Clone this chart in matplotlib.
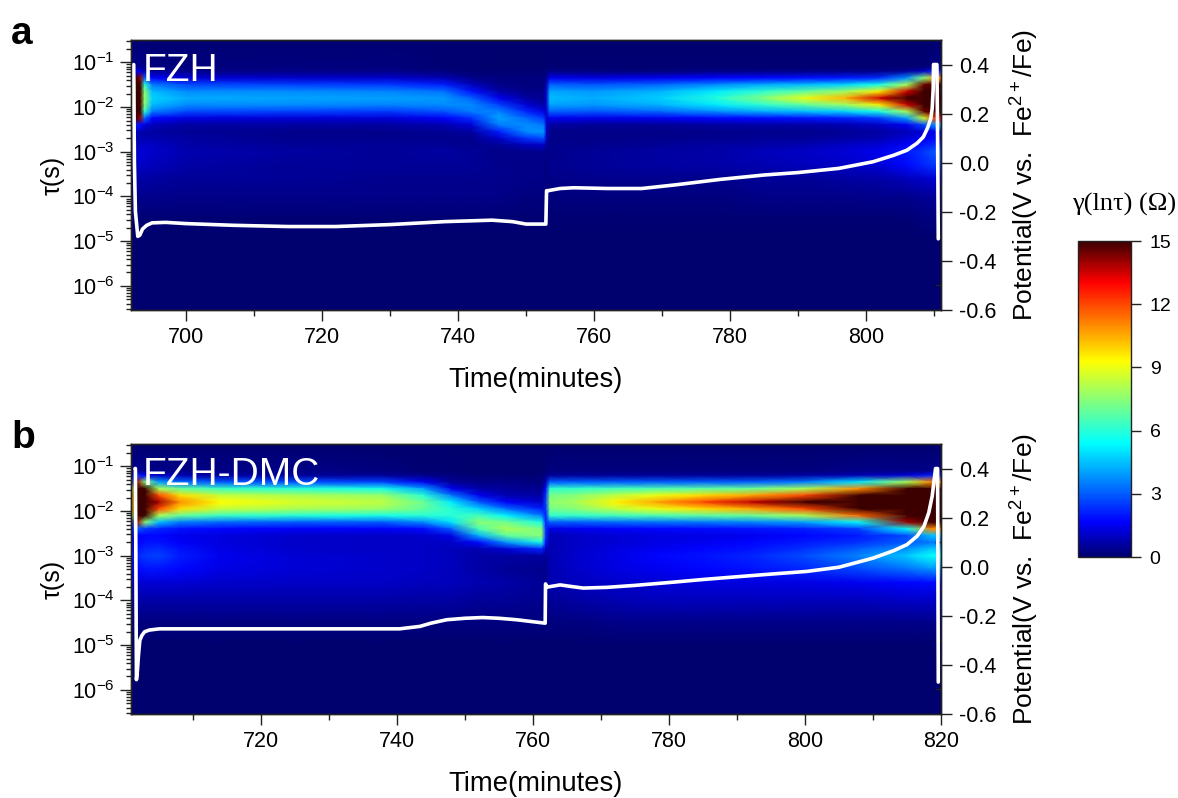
import numpy as np
import matplotlib
matplotlib.use("Agg")
import matplotlib.pyplot as plt
from matplotlib.colors import LinearSegmentedColormap
from matplotlib.ticker import LogLocator, MultipleLocator, FixedLocator, NullFormatter, FuncFormatter

plt.rcParams['font.family'] = ['Liberation Sans', 'DejaVu Sans']
plt.rcParams['mathtext.fontset'] = 'custom'
plt.rcParams['mathtext.rm'] = 'Liberation Sans'
plt.rcParams['mathtext.default'] = 'regular'

# log10(tau) levels of the heat-map rows
log_tau = [-0.50, -1.10, -1.20, -1.35, -1.50, -1.65, -1.80, -1.95, -2.10, -2.25, -2.40,
           -2.55, -2.70, -2.85, -3.00, -3.30, -3.60, -4.00, -4.50, -5.00, -6.54]

# panel a : each row is one time column
time_a = [691.9, 692.7, 693.3, 693.9, 695, 700, 715, 730, 738, 742, 746, 750, 752.6, 753.0, 753.5,
          760, 770, 778, 785, 791, 797, 802, 806, 808.5, 810.5, 811]
gamma_a = [
    [.2, .3, .6, 3, 7, 9, 9, 9, 7, 3, 1, .6, .6, .7, .8, .7, .6, .4, .1, 0, 0],
    [.1, .4, 1.5, 15, 24, 26, 26, 26, 24, 15, 2, .8, .7, .9, 1, .9, .7, .4, .1, 0, 0],
    [.1, .4, 1.3, 14, 24, 26, 26, 26, 24, 14, 1.8, .8, .8, 1, 1.2, 1, .7, .4, .1, 0, 0],
    [.1, .3, .8, 3.2, 6.2, 7.5, 7.8, 7.5, 6.2, 3.2, 1.3, .7, .8, 1, 1.2, 1, .7, .4, .1, 0, 0],
    [.1, .2, .5, 1.7, 3.5, 4.4, 4.8, 4.4, 3.5, 1.7, .9, .6, .8, 1, 1.1, .9, .6, .4, .1, 0, 0],
    [.1, .2, .3, 1.2, 2.7, 3.7, 4.2, 3.7, 2.7, 1.3, .6, .5, .6, .7, .8, .7, .5, .3, .1, 0, 0],
    [.1, .2, .3, 1.1, 2.6, 3.7, 4.1, 3.7, 2.6, 1.2, .6, .4, .4, .5, .6, .5, .5, .3, .1, 0, 0],
    [.1, .2, .3, 1.1, 2.5, 3.6, 4.0, 3.6, 2.5, 1.2, .6, .4, .4, .5, .5, .5, .4, .3, .1, 0, 0],
    [.1, .1, .2, .8, 2.1, 3.3, 3.9, 3.7, 2.9, 1.6, .8, .5, .4, .5, .6, .5, .4, .3, .1, 0, 0],
    [.1, .1, .1, .3, .9, 1.9, 3.1, 3.7, 3.5, 2.3, 1.2, .6, .4, .4, .5, .5, .4, .3, .1, 0, 0],
    [0, 0, .1, .2, .3, .7, 1.5, 2.6, 3.6, 4.1, 3.5, 2.1, 1, .5, .3, .4, .4, .3, .1, 0, 0],
    [0, 0, .1, .2, .2, .3, .6, 1.2, 2.2, 3.2, 3.8, 3.7, 2.4, .9, .4, .3, .3, .2, .1, 0, 0],
    [0, 0, .1, .2, .2, .3, .4, .7, 1.4, 2.5, 3.4, 3.9, 2.8, 1.0, .4, .3, .3, .2, .1, 0, 0],
    [0, .1, .2, .4, .9, 1.1, 1.2, 1.1, 1, 1, 1.1, 1.1, .9, .5, .3, .2, .2, .2, .1, 0, 0],
    [0, .1, .3, 1.5, 3.1, 4.1, 4.4, 4.1, 3.1, 1.5, .6, .3, .3, .4, .4, .4, .3, .2, .1, 0, 0],
    [0, .1, .2, 1.3, 2.9, 3.9, 4.2, 3.9, 2.9, 1.4, .5, .3, .3, .4, .5, .5, .4, .2, .1, 0, 0],
    [0, .1, .2, 1.5, 3.2, 4.3, 4.7, 4.3, 3.2, 1.5, .5, .3, .4, .5, .6, .6, .4, .2, .1, 0, 0],
    [0, .1, .3, 1.7, 3.7, 5.1, 5.9, 5.1, 3.7, 1.7, .6, .4, .4, .6, .7, .7, .4, .2, .1, 0, 0],
    [0, .1, .3, 1.8, 4.2, 6.1, 7.4, 6.1, 4.2, 1.8, .7, .4, .5, .7, .9, .8, .5, .3, .1, 0, 0],
    [0, .1, .3, 1.9, 4.4, 6.9, 9, 6.9, 4.4, 1.9, .7, .4, .5, .8, 1, .9, .5, .3, .1, 0, 0],
    [0, .1, .3, 2, 4.8, 7.8, 10.4, 7.8, 4.8, 2.1, .8, .5, .6, 1, 1.2, 1, .6, .3, .1, 0, 0],
    [0, .1, .3, 2.3, 5.8, 9.5, 13.5, 9.5, 5.8, 2.5, 1, .6, .8, 1.2, 1.5, 1.2, .7, .4, .1, 0, 0],
    [0, .1, .5, 3.8, 8, 13.5, 20, 13.5, 8, 4, 1.5, .9, 1.2, 1.6, 2, 1.8, .9, .4, .1, 0, 0],
    [0, .1, 1, 7.5, 14.5, 22, 32, 22, 14.5, 8.5, 2.8, 1.2, 1.5, 2, 2.5, 2.2, 1.1, .5, .2, 0, 0],
    [0, .3, 2.2, 11, 19, 26, 34, 26, 19, 13, 4, 1.5, 1.8, 2.4, 3, 2.5, 1.2, .5, .2, 0, 0],
    [0, .3, 2.2, 11, 19, 26, 34, 26, 19, 13, 4, 1.5, 1.8, 2.4, 3, 2.5, 1.2, .5, .2, 0, 0],
]

# panel b
time_b = [700.9, 701.8, 703, 705, 708, 714, 725, 738, 744, 748, 752, 756, 761.3, 761.9, 762.5,
          766, 772, 778, 785, 792, 800, 808, 815, 818.5, 820]
gamma_b = [
    [0, .3, .8, 3, 8, 10, 10, 10, 8, 3, 1.5, 1.2, 1.3, 1.5, 1.8, 1.5, 1, .6, .2, 0, 0],
    [0, .5, 2.2, 14, 24, 26, 26, 26, 24, 14, 3, 1.6, 1.6, 1.9, 2.2, 1.7, 1.1, .7, .2, 0, 0],
    [0, .4, 1.5, 7.5, 15, 18, 18, 18, 15, 7.5, 2.5, 1.7, 1.9, 2.2, 2.5, 1.9, 1.2, .7, .2, 0, 0],
    [0, .3, 1, 4, 8, 12, 14, 12, 8, 4.5, 2.2, 1.7, 1.9, 2.3, 2.6, 1.9, 1.2, .7, .2, 0, 0],
    [0, .3, .8, 3.2, 7, 9.8, 11, 9.8, 7, 3.5, 1.9, 1.5, 1.6, 1.9, 2.1, 1.7, 1.2, .7, .2, 0, 0],
    [0, .3, .6, 2.9, 6.3, 8.4, 9.3, 8.4, 6.3, 3.2, 1.7, 1.3, 1.3, 1.4, 1.5, 1.4, 1.1, .7, .2, 0, 0],
    [0, .3, .5, 2.8, 6, 8, 8.7, 8, 6, 3, 1.6, 1.1, 1.1, 1.1, 1.2, 1.2, 1, .7, .2, 0, 0],
    [0, .2, .5, 2.6, 5.7, 7.7, 8.3, 7.7, 5.8, 3, 1.6, 1, 1, 1, 1.1, 1.1, 1, .7, .2, 0, 0],
    [0, .1, .3, 1.5, 4, 6, 7, 6.9, 6, 3.7, 1.8, 1.1, 1, 1, 1, 1, .9, .6, .2, 0, 0],
    [0, .1, .2, .5, 1.5, 3.5, 5.2, 6, 6, 5, 3, 1.4, 1, .9, .9, .9, .9, .6, .2, 0, 0],
    [0, 0, .1, .3, .7, 1.5, 3, 4.8, 6.5, 7.5, 6.5, 4.2, 1.8, .8, .7, .7, .8, .5, .2, 0, 0],
    [0, 0, .1, .3, .5, .8, 1.6, 3.3, 5.3, 7.2, 8, 6.8, 3.8, 1.2, .6, .5, .7, .5, .2, 0, 0],
    [0, 0, .1, .2, .4, .6, 1, 2, 3.5, 5.8, 7.3, 7.5, 5.8, 2.2, .6, .4, .5, .4, .2, 0, 0],
    [0, .1, .3, .8, 1.8, 2.4, 2.6, 2.4, 2, 2.2, 2.4, 2.4, 1.9, .9, .5, .4, .4, .3, .2, 0, 0],
    [0, .2, .5, 3, 6.2, 7.2, 7.6, 7.2, 6.2, 3, 1.4, .8, .8, .8, .8, .8, .8, .5, .2, 0, 0],
    [0, .2, .5, 3, 6.2, 7.4, 7.9, 7.4, 6.2, 3, 1.5, 1, 1, 1, 1.1, 1, .9, .6, .2, 0, 0],
    [0, .2, .5, 3, 6.4, 8.3, 9.4, 8.3, 6.4, 3.2, 1.6, 1.2, 1.2, 1.3, 1.4, 1.3, 1.1, .8, .3, 0, 0],
    [0, .2, .5, 3, 6.6, 9, 10.6, 9, 6.6, 3.3, 1.7, 1.3, 1.4, 1.5, 1.7, 1.5, 1.2, .9, .3, 0, 0],
    [0, .2, .5, 3, 6.8, 9.8, 12, 9.8, 6.8, 3.4, 1.8, 1.4, 1.5, 1.7, 1.9, 1.7, 1.3, .9, .3, 0, 0],
    [0, .2, .5, 3, 7, 10.6, 13.6, 10.6, 7, 3.6, 1.9, 1.5, 1.7, 1.9, 2.2, 1.9, 1.3, .9, .3, 0, 0],
    [0, .2, .6, 3.4, 8, 12, 16, 12, 8, 4, 2.1, 1.7, 2, 2.4, 2.8, 2.2, 1.4, .9, .3, 0, 0],
    [0, .3, .8, 5, 11, 17, 22, 17, 11.5, 5.5, 2.6, 2, 2.4, 3.1, 3.6, 2.7, 1.5, .9, .3, 0, 0],
    [0, .3, 1.2, 8, 16.5, 25, 28, 28, 25, 14, 5.5, 2.8, 3, 3.8, 4.6, 3.3, 1.7, 1, .3, 0, 0],
    [0, .3, 2, 11, 20, 28, 30, 30, 28, 22, 11, 4.5, 3.4, 4.6, 5.5, 3.8, 1.8, 1, .3, 0, 0],
    [0, .3, 2, 11, 20, 28, 30, 30, 28, 22, 11, 4.5, 3.4, 4.6, 5.5, 3.8, 1.8, 1, .3, 0, 0],
]

# potential traces
pot_t_a = [692.3, 692.4, 692.55, 692.9, 693.2, 693.6, 694.2, 695, 697, 700, 707, 715, 722, 730, 738, 745,
           748, 750, 752.9, 753.0, 753.2, 755, 757, 762, 767, 772, 778.5, 785, 790, 796, 801, 804, 806,
           807.5, 808.4, 809, 809.5, 809.7, 809.85, 809.9, 810.4, 810.5, 810.6]
pot_v_a = [.40, .0, -.20, -.30, -.295, -.27, -.255, -.245, -.243, -.248, -.255, -.26, -.26, -.252, -.24, -.234,
           -.24, -.25, -.25, -.114, -.114, -.105, -.102, -.105, -.105, -.09, -.068, -.05, -.04, -.023, .004, .03, .051,
           .08, .105, .14, .18, .22, .30, .40, .40, .10, -.31]
pot_t_b = [701.5, 701.55, 701.7, 701.85, 702.0, 702.2, 702.5, 702.9, 703.6, 705.1, 720, 740.4, 743.4, 745, 747.3, 750,
           752.6, 755, 757.6, 761.8, 761.85, 762.1, 764, 765.5, 767.4, 770.9, 775, 780.6, 785, 790.4, 795, 800.3, 805,
           810, 813, 815, 816.5, 817.5, 818.2, 818.7, 819.2, 819.5, 819.6]
pot_v_b = [.40, .40, -.46, -.42, -.36, -.30, -.28, -.265, -.258, -.253, -.253, -.253, -.243, -.23, -.216, -.21,
           -.207, -.21, -.216, -.23, -.07, -.083, -.074, -.08, -.087, -.084, -.076, -.063, -.052, -.04, -.03, -.019, -.002,
           .035, .065, .09, .125, .165, .22, .287, .40, .40, -.47]

x_ticks_a = [700, 720, 740, 760, 780, 800]
x_ticks_b = [720, 740, 760, 780, 800, 820]
pot_ticks = [-0.6, -0.4, -0.2, 0.0, 0.2, 0.4]
cbar_ticks = [0, 3, 6, 9, 12, 15]

cmap = LinearSegmentedColormap.from_list('gamma', [
    (0.00, '#00006e'), (0.11, '#0000ff'), (0.36, '#00ffff'), (0.62, '#ffff00'),
    (0.87, '#ff0000'), (1.00, '#3c0000')])

W, H = 1178, 798
fig = plt.figure(figsize=(W / 100, H / 100), dpi=100)


def box(x0, y0, x1, y1):
    return [x0 / W, 1 - y1 / H, (x1 - x0) / W, (y1 - y0) / H]


def panel(y0, times, gamma, pt, pv, xlim, ticks, name, letter, letter_y):
    ax = fig.add_axes(box(131, y0, 941, y0 + 270))
    T, L = np.meshgrid(times, 10.0 ** np.array(log_tau), indexing='ij')
    mesh = ax.pcolormesh(T, L, np.array(gamma), shading='gouraud', cmap=cmap, vmin=0, vmax=15, rasterized=True)
    ax.set_yscale('log')
    ax.set_xlim(*xlim)
    ax.set_ylim(10 ** -6.54, 10 ** -0.5)
    ax.set_xticks(ticks)
    ax.xaxis.set_minor_locator(MultipleLocator(10))
    ax.yaxis.set_major_locator(LogLocator(base=10, numticks=12))
    ax.yaxis.set_minor_locator(LogLocator(base=10, subs=np.arange(2, 10), numticks=12))
    ax.yaxis.set_minor_formatter(NullFormatter())
    ax.yaxis.set_major_formatter(FuncFormatter(lambda v, p: '$10^{%d}$' % round(np.log10(v))))
    ax.tick_params(axis='both', which='major', length=8, width=1, labelsize=15.5, color='#222222', pad=4)
    ax.tick_params(axis='both', which='minor', length=3.5, width=1, color='#222222')
    ax.tick_params(axis='x', which='minor', length=4)
    ax.set_xlabel('Time(minutes)', fontsize=19.8, va='center')
    ax.xaxis.set_label_coords(0.5, -70 / 270)
    ax.set_ylabel('τ(s)', fontsize=18, va='center')
    ax.yaxis.set_label_coords(-78 / 810, 0.5)

    ax2 = ax.twinx()
    ax2.plot(pt, pv, color='white', lw=2.6, solid_joinstyle='round', solid_capstyle='round')
    ax2.set_ylim(-0.6, 0.5)
    ax2.set_yticks(pot_ticks)
    ax2.set_yticklabels(['%.1f' % v for v in pot_ticks])
    ax2.yaxis.set_minor_locator(FixedLocator([-0.5, -0.3, -0.1, 0.1, 0.3]))
    ax2.tick_params(axis='y', which='major', length=8, width=1, labelsize=15.5, color='#222222', pad=5)
    ax2.tick_params(axis='y', which='minor', direction='in', length=4, width=1, color='#222222')
    ax2.set_ylabel('Potential(V vs.  Fe$^{2+}$/Fe)', fontsize=19, va='center')
    ax2.yaxis.set_label_coords(894 / 810, 0.5)
    ax2.text(143 / W, 1 - (y0 + 41) / H, name, transform=fig.transFigure, color='white',
             fontsize=28, va='baseline', ha='left')
    fig.text(11 / W, 1 - letter_y / H, letter, fontsize=28, fontweight='bold', va='baseline', ha='left')
    for a in (ax, ax2):
        for s in a.spines.values():
            s.set_linewidth(1)
            s.set_color('#222222')
    return mesh


m = panel(40, time_a, gamma_a, pot_t_a, pot_v_a, (691.9, 811), x_ticks_a, 'FZH', 'a', 44)
panel(444, time_b, gamma_b, pot_t_b, pot_v_b, (700.9, 820), x_ticks_b, 'FZH-DMC', 'b', 448)

cax = fig.add_axes(box(1078, 241, 1131, 557))
cb = fig.colorbar(m, cax=cax)
cb.set_ticks(cbar_ticks)
cb.ax.tick_params(length=7.5, width=1, labelsize=14, pad=6, color='#222222')
cb.outline.set_linewidth(1)
cb.outline.set_color('#222222')
fig.text(1124 / W, 1 - 204 / H, 'γ(lnτ) (Ω)', fontsize=19, family='Liberation Serif', ha='center', va='center')

fig.savefig('out.png', dpi=100)
